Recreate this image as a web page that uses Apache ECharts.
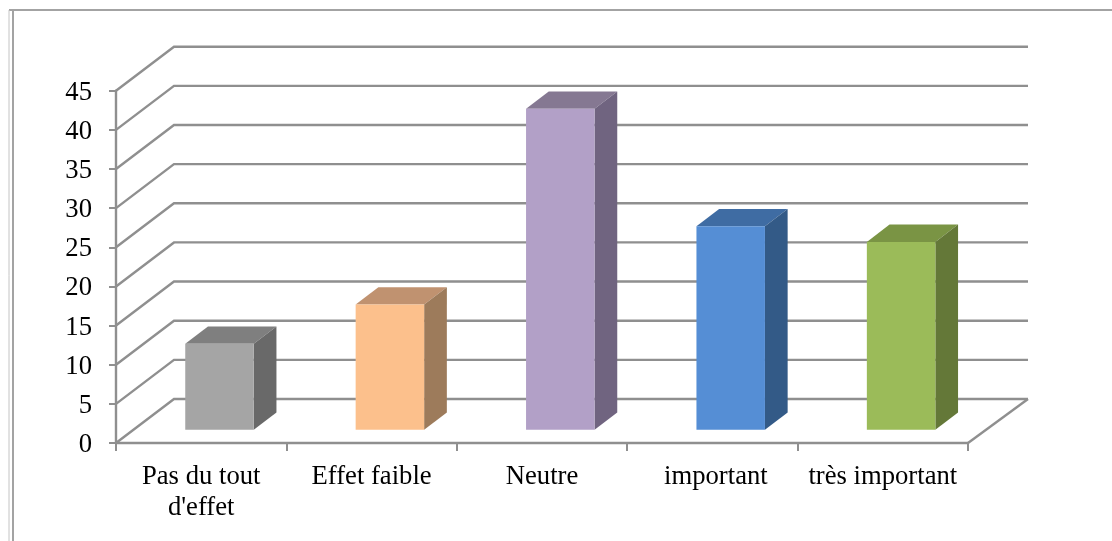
<!DOCTYPE html>
<html>
<head>
<meta charset="utf-8">
<title>Effet</title>
<style>
  html, body { margin: 0; padding: 0; background: #fff; }
  #chart { width: 1112px; height: 541px; }
</style>
<script src="https://cdn.jsdelivr.net/npm/echarts@6/dist/echarts.min.js"></script>
</head>
<body>
<div id="chart"></div>
<script>
// Survey answers per effect level
const categories = ["Pas du tout\nd'effet", "Effet faible", "Neutre", "important", "très important"];
const values = [11, 16, 41, 26, 24];
const tickValues = [0, 5, 10, 15, 20, 25, 30, 35, 40, 45];

// Face colours per bar: front, top, side
const frontColors = ['#a5a5a5', '#fcc08c', '#b2a0c7', '#558ed5', '#9bbb59'];
const topColors = ['#7f7f7f', '#c09270', '#857892', '#3f6ca3', '#7a9444'];
const sideColors = ['#696969', '#9d7b5b', '#706480', '#335a87', '#647838'];

// Oblique projection offsets of the 3D box
const wallDxLeft = 58, wallDxRight = 60, wallDy = -44;
const barInsetX = 18.3, barInsetY = -13.2;
const barDepthX = 22.7, barDepthY = -17.3;
const barWidth = 68.5;
const gridColor = '#8f8f8f';

function renderWallLine(params, api) {
  const v = api.value(1);
  const band = api.size([1, 0])[0];
  const left = api.coord([0, v]);
  const right = api.coord([categories.length - 1, v]);
  const x0 = left[0] - band / 2, x1 = right[0] + band / 2, y = left[1];
  const style = { stroke: gridColor, lineWidth: 2.4, fill: null };
  const children = [{
    type: 'polyline',
    shape: { points: [[x0, y], [x0 + wallDxLeft, y + wallDy], [x1 + wallDxRight, y + wallDy]] },
    style: style
  }];
  if (v === 0) {
    children.push({
      type: 'line',
      shape: { x1: x1, y1: y, x2: x1 + wallDxRight, y2: y + wallDy },
      style: style
    });
  }
  return { type: 'group', children: children };
}

function renderBar(params, api) {
  const i = api.value(0);
  const base = api.coord([i, 0]);
  const top = api.coord([i, api.value(1)]);
  const xL = base[0] + barInsetX - barWidth / 2;
  const xR = xL + barWidth;
  const yB = base[1] + barInsetY;
  const yT = top[1] + barInsetY;
  const dx = barDepthX, dy = barDepthY;
  return {
    type: 'group',
    children: [
      { type: 'polygon', shape: { points: [[xL, yT], [xR, yT], [xR + dx, yT + dy], [xL + dx, yT + dy]] }, style: { fill: topColors[i] } },
      { type: 'polygon', shape: { points: [[xR, yT], [xR + dx, yT + dy], [xR + dx, yB + dy], [xR, yB]] }, style: { fill: sideColors[i] } },
      { type: 'rect', shape: { x: xL, y: yT, width: barWidth, height: yB - yT }, style: { fill: frontColors[i] } }
    ]
  };
}

const labelFont = { fontFamily: '"Liberation Serif", serif', fontSize: 26.67, color: '#000' };

const chart = echarts.init(document.getElementById('chart'), null, { renderer: 'canvas' });
chart.setOption({
  animation: false,
  backgroundColor: '#fff',
  grid: { left: 116, right: 144, top: 90.7, bottom: 98, containLabel: false },
  xAxis: {
    type: 'category',
    data: categories,
    axisLine: { lineStyle: { color: gridColor, width: 2.4 } },
    axisTick: { show: true, length: 8, alignWithLabel: false, lineStyle: { color: gridColor, width: 2 } },
    axisLabel: Object.assign({
      interval: 0,
      margin: 19,
      lineHeight: 30.5,
      formatter: v => (v === 'important' ? '{shifted|' + v + '}' : v),
      rich: { shifted: Object.assign({ padding: [0, 0, 0, 7] }, labelFont) }
    }, labelFont),
    splitLine: { show: false }
  },
  yAxis: {
    type: 'value',
    min: 0,
    max: 45,
    interval: 5,
    axisLine: { show: true, lineStyle: { color: gridColor, width: 2.4 } },
    axisTick: { show: true, length: 7, lineStyle: { color: gridColor, width: 2 } },
    axisLabel: Object.assign({
      margin: 24,
      formatter: '{n|{value}}',
      rich: { n: Object.assign({ padding: [4, 0, 0, 0] }, labelFont) }
    }, labelFont),
    splitLine: { show: false }
  },
  // Outer frame of the figure
  graphic: [
    { type: 'line', shape: { x1: 9, y1: 10, x2: 1112, y2: 10 }, style: { stroke: '#a3a3a3', lineWidth: 2 } },
    { type: 'line', shape: { x1: 9, y1: 10, x2: 9, y2: 541 }, style: { stroke: '#c4c4c4', lineWidth: 1 } },
    { type: 'line', shape: { x1: 13, y1: 10, x2: 13, y2: 541 }, style: { stroke: '#a3a3a3', lineWidth: 2 } }
  ],
  series: [
    {
      type: 'custom',
      renderItem: renderWallLine,
      data: tickValues.map(t => [0, t]),
      encode: { x: 0, y: 1 },
      silent: true,
      z: 1
    },
    {
      type: 'custom',
      renderItem: renderBar,
      data: values.map((v, i) => [i, v]),
      encode: { x: 0, y: 1 },
      silent: true,
      z: 3
    }
  ]
});
</script>
</body>
</html>
